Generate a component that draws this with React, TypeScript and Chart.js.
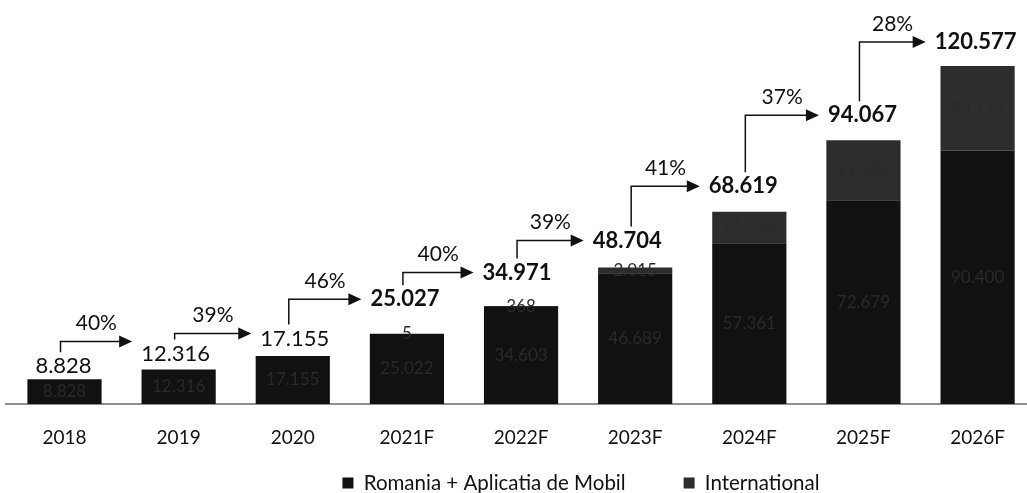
import React, { useEffect, useRef } from "react";
import { Chart, registerables } from "chart.js";

Chart.register(...registerables);

// ---------- data ----------
const categories = ["2018", "2019", "2020", "2021F", "2022F", "2023F", "2024F", "2025F", "2026F"];
const romaniaValues = [8828, 12316, 17155, 25022, 34603, 46689, 57361, 72679, 90400];
const internationalValues = [0, 0, 0, 5, 368, 2015, 11258, 21388, 30177];
const growthLabels = ["40%", "39%", "46%", "40%", "39%", "41%", "37%", "28%"];
const seriesNames = ["Romania + Aplicatia de Mobil", "International"];

// ---------- presentation tweaks (pixels) ----------
const totalLabelLift = [13, 16, 17.5, 34.5, 33.5, 27, 25.5, 25, 24];
const totalLabelShift = [-1, -3, 2, -2, -4, -8, -6, -1, -2];
const arrowRaise = [12, 5, 0, 0, 0, 0, 0, 0];
const LEGEND_CENTER_X = 581;
const LEGEND_TEXT_Y = 483;
const LEGEND_FONT = 20.5;
const LEGEND_PAD = 58;

const FONT = "Lato, 'Open Sans', sans-serif";
const fmt = (v: number) => v.toLocaleString("de-DE");

const annotate = {
  id: "annotate",
  afterLayout(chart: any) {
    const lg = chart.legend;
    if (lg) {
      const shift = LEGEND_CENTER_X - (lg.left + lg.right) / 2;
      lg.left += shift;
      lg.right += shift;
      lg.top = LEGEND_TEXT_Y - LEGEND_PAD - LEGEND_FONT / 2;
      lg.bottom = lg.top + LEGEND_PAD + LEGEND_FONT + 30;
      lg.height = lg.bottom - lg.top;
    }
  },
  beforeDatasetsDraw(chart: any) {
    const { ctx } = chart;
    const y0 = chart.scales.y.getPixelForValue(0);
    ctx.save();
    ctx.strokeStyle = "#6a6a6a";
    ctx.lineWidth = 1.6;
    ctx.beginPath();
    ctx.moveTo(5, y0);
    ctx.lineTo(chart.width, y0);
    ctx.stroke();
    ctx.restore();
  },
  afterDatasetsDraw(chart: any) {
    const { ctx } = chart;
    const xs = chart.scales.x;
    const ys = chart.scales.y;
    ctx.save();

    // faint segment labels inside the bars
    ctx.font = `17px ${FONT}`;
    ctx.fillStyle = "#2a2a2a";
    ctx.textAlign = "center";
    ctx.textBaseline = "middle";
    chart.data.datasets.forEach((ds: any, d: number) => {
      const meta = chart.getDatasetMeta(d);
      meta.data.forEach((el: any, i: number) => {
        const v = ds.data[i];
        if (!v) return;
        const cy = (el.y + el.base) / 2;
        ctx.fillText(fmt(v), el.x, cy);
      });
    });

    // totals
    const lx: number[] = [];
    const ly: number[] = [];
    const lw: number[] = [];
    categories.forEach((cat, i) => {
      const total = romaniaValues[i] + internationalValues[i];
      const x = xs.getPixelForValue(i) + totalLabelShift[i];
      const y = ys.getPixelForValue(total) - totalLabelLift[i];
      const bold = cat.endsWith("F");
      ctx.font = `${bold ? "bold " : ""}22px ${FONT}`;
      ctx.fillStyle = "#111";
      const t = fmt(total);
      lw.push(ctx.measureText(t).width);
      lx.push(x);
      ly.push(y);
      ctx.fillText(t, x, y);
    });

    // growth arrows
    ctx.strokeStyle = "#111";
    ctx.fillStyle = "#111";
    ctx.lineWidth = 1.5;
    growthLabels.forEach((g, i) => {
      const vx = xs.getPixelForValue(i) - 4;
      const vb = ly[i] - 14;
      const hy = ly[i + 1] - arrowRaise[i];
      const tip = lx[i + 1] - lw[i + 1] / 2 - 9;
      const head = 13;
      ctx.beginPath();
      ctx.moveTo(vx, vb);
      ctx.lineTo(vx, hy);
      ctx.lineTo(tip - head + 1, hy);
      ctx.stroke();
      ctx.beginPath();
      ctx.moveTo(tip, hy);
      ctx.lineTo(tip - head, hy - 6);
      ctx.lineTo(tip - head, hy + 6);
      ctx.closePath();
      ctx.fill();
      ctx.font = `21px ${FONT}`;
      ctx.fillText(g, (vx + tip) / 2, hy - 18);
    });
    ctx.restore();
  },
};

export default function App() {
  const ref = useRef<HTMLCanvasElement | null>(null);

  useEffect(() => {
    if (!ref.current) return;
    const chart = new Chart(ref.current, {
      type: "bar",
      data: {
        labels: categories,
        datasets: [
          {
            label: seriesNames[0],
            data: romaniaValues,
            backgroundColor: "#111111",
            categoryPercentage: 0.65,
            barPercentage: 1,
            clip: false as any,
          },
          {
            label: seriesNames[1],
            data: internationalValues,
            backgroundColor: "#2d2d2d",
            categoryPercentage: 0.65,
            barPercentage: 1,
            clip: false as any,
          },
        ],
      },
      options: {
        responsive: false,
        animation: false,
        layout: { padding: { top: 11.6, left: 64.5, right: 44.5, bottom: 4.7 } },
        scales: {
          x: {
            stacked: true,
            offset: false,
            grid: { display: false, drawTicks: false },
            border: { display: false },
            ticks: { padding: 22, color: "#111", font: { family: FONT, size: 19 } },
          },
          y: {
            stacked: true,
            display: false,
            min: 0,
            max: 140000,
          },
        },
        plugins: {
          legend: {
            position: "bottom",
            maxHeight: 17.5,
            labels: {
              boxWidth: 11,
              boxHeight: 11,
              padding: LEGEND_PAD,
              color: "#111",
              font: { family: FONT, size: LEGEND_FONT },
            },
          },
          tooltip: { enabled: false },
        },
      },
      plugins: [annotate],
    });
    return () => chart.destroy();
  }, []);

  return (
    <div style={{ width: 1027, height: 493 }}>
      <style>{`body{margin:0;overflow:hidden;}`}</style>
      <canvas ref={ref} width={1027} height={493} style={{ display: "block" }} />
    </div>
  );
}
